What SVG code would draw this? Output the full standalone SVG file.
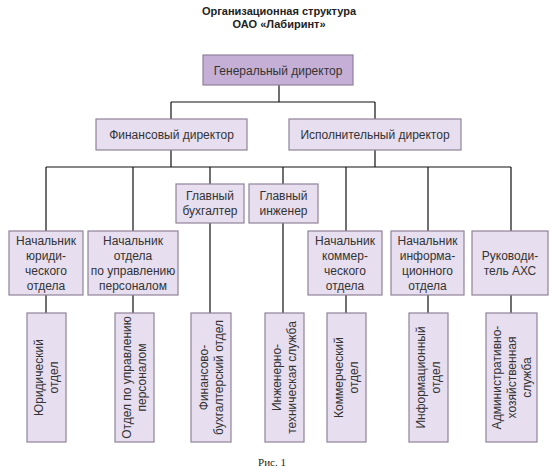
<svg xmlns="http://www.w3.org/2000/svg" width="555" height="468" viewBox="0 0 555 468">
<style>
.box{fill:#e7def0;stroke:#8f8298;stroke-width:1.2}
.gd{fill:#c6afd6;stroke:#8f8298;stroke-width:1.2}
.t{font-family:"Liberation Sans",Arial,sans-serif;font-size:12px;fill:#333;text-anchor:middle}
.title{font-family:"Liberation Sans",Arial,sans-serif;font-size:11px;font-weight:bold;fill:#222;text-anchor:middle}
.cap{font-family:"Liberation Serif","Times New Roman",serif;font-size:11px;fill:#222;text-anchor:middle}
.ln{stroke:#111;stroke-width:1.2;fill:none}
</style>
<rect width="555" height="468" fill="#ffffff"/>
<g id="title">
<text class="title" x="279" y="15">Организационная структура</text>
<text class="title" x="279" y="28">ОАО «Лабиринт»</text>
</g>
<g id="connectors">
<path class="ln" d="M279 85V102M171 102H375M171 102V119M375 102V119"/>
<path class="ln" d="M171 150V167M375 150V167M46 167H511"/>
<path class="ln" d="M46 167V231M133 167V231M210 167V184M283 167V184M346 167V231M428 167V231M511 167V231"/>
<path class="ln" d="M46 295V313M133 295V313M210 223V313M283 223V313M346 295V313M428 295V313M511 295V313"/>
</g>
<g id="gen-director">
<rect class="gd" x="203" y="55" width="150" height="30"/>
<text class="t" x="278" y="75">Генеральный директор</text>
</g>
<g id="fin-director">
<rect class="box" x="96" y="119" width="151" height="31"/>
<text class="t" x="171.5" y="139">Финансовый директор</text>
</g>
<g id="exec-director">
<rect class="box" x="289" y="119" width="172" height="31"/>
<text class="t" x="375" y="139">Исполнительный директор</text>
</g>
<g id="chief-accountant">
<rect class="box" x="176" y="184" width="68" height="39"/>
<text class="t"><tspan x="210" y="200">Главный</tspan><tspan x="210" y="215">бухгалтер</tspan></text>
</g>
<g id="chief-engineer">
<rect class="box" x="249" y="184" width="69" height="39"/>
<text class="t"><tspan x="283.5" y="200">Главный</tspan><tspan x="283.5" y="215">инженер</tspan></text>
</g>
<g id="head-legal">
<rect class="box" x="9" y="231" width="74" height="64"/>
<text class="t"><tspan x="46" y="245">Начальник</tspan><tspan x="46" y="260">юриди-</tspan><tspan x="46" y="275">ческого</tspan><tspan x="46" y="290">отдела</tspan></text>
</g>
<g id="head-hr">
<rect class="box" x="88" y="231" width="90" height="64"/>
<text class="t"><tspan x="133" y="245">Начальник</tspan><tspan x="133" y="260">отдела</tspan><tspan x="133" y="275">по управлению</tspan><tspan x="133" y="290">персоналом</tspan></text>
</g>
<g id="head-commercial">
<rect class="box" x="308" y="231" width="74" height="64"/>
<text class="t"><tspan x="345" y="245">Начальник</tspan><tspan x="345" y="260">коммер-</tspan><tspan x="345" y="275">ческого</tspan><tspan x="345" y="290">отдела</tspan></text>
</g>
<g id="head-info">
<rect class="box" x="391" y="231" width="73" height="64"/>
<text class="t"><tspan x="427.5" y="245">Начальник</tspan><tspan x="427.5" y="260">информа-</tspan><tspan x="427.5" y="275">ционного</tspan><tspan x="427.5" y="290">отдела</tspan></text>
</g>
<g id="head-ahs">
<rect class="box" x="472" y="231" width="76" height="64"/>
<text class="t"><tspan x="510" y="260">Руководи-</tspan><tspan x="510" y="275">тель АХС</tspan></text>
</g>
<g id="dept-legal">
<rect class="box" x="27" y="313" width="39" height="129"/>
<text class="t" transform="translate(46.5,377.5) rotate(-90)"><tspan x="0" y="-3.5">Юридический</tspan><tspan x="0" y="11.5">отдел</tspan></text>
</g>
<g id="dept-hr">
<rect class="box" x="115" y="313" width="39" height="129"/>
<text class="t" transform="translate(134.5,377.5) rotate(-90)"><tspan x="0" y="-3.5">Отдел по управлению</tspan><tspan x="0" y="11.5">персоналом</tspan></text>
</g>
<g id="dept-finance">
<rect class="box" x="191" y="313" width="40" height="129"/>
<text class="t" transform="translate(211,377.5) rotate(-90)"><tspan x="0" y="-3.5">Финансово-</tspan><tspan x="0" y="11.5">бухгалтерский отдел</tspan></text>
</g>
<g id="dept-engineering">
<rect class="box" x="265" y="313" width="39" height="129"/>
<text class="t" transform="translate(284.5,377.5) rotate(-90)"><tspan x="0" y="-3.5">Инженерно-</tspan><tspan x="0" y="11.5">техническая служба</tspan></text>
</g>
<g id="dept-commercial">
<rect class="box" x="327" y="313" width="39" height="129"/>
<text class="t" transform="translate(346.5,377.5) rotate(-90)"><tspan x="0" y="-3.5">Коммерческий</tspan><tspan x="0" y="11.5">отдел</tspan></text>
</g>
<g id="dept-info">
<rect class="box" x="409" y="313" width="39" height="129"/>
<text class="t" transform="translate(428.5,377.5) rotate(-90)"><tspan x="0" y="-3.5">Информационный</tspan><tspan x="0" y="11.5">отдел</tspan></text>
</g>
<g id="dept-ahs">
<rect class="box" x="486" y="313" width="51" height="129"/>
<text class="t" transform="translate(511.5,377.5) rotate(-90)"><tspan x="0" y="-11">Административно-</tspan><tspan x="0" y="4">хозяйственная</tspan><tspan x="0" y="19">служба</tspan></text>
</g>
<text class="cap" x="272" y="466">Рис. 1</text>
</svg>
